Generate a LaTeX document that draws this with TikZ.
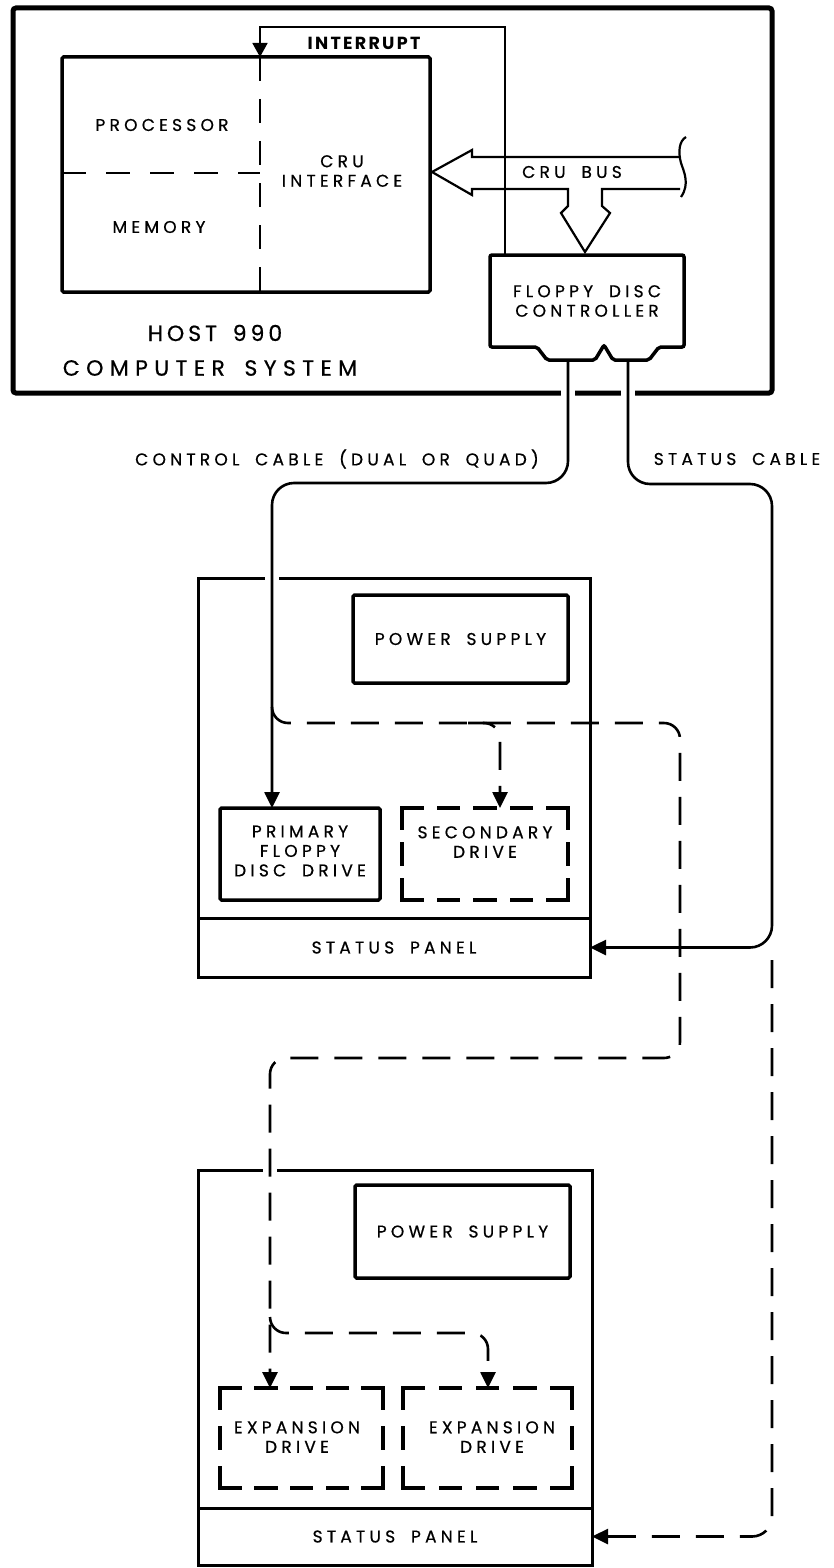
\documentclass[tikz,border=0pt]{standalone}
\usepackage{fontspec}
\newfontfamily\lbl[LetterSpace=25,WordSpace=1.8,FakeBold=0.6]{Poppins}
\newfontfamily\lblh[LetterSpace=18,WordSpace=1.6,FakeBold=0.6]{Poppins}
\newfontfamily\lblc[LetterSpace=29,WordSpace=1.6,FakeBold=0.6]{Poppins}
\newfontfamily\lblb[LetterSpace=13]{Poppins}
\usetikzlibrary{arrows.meta}
\newcommand{\dbx}[3]{%
  \draw[dside, dash pattern=on 20pt off #2pt] (#1.north west) -- (#1.north east);
  \draw[dside, dash pattern=on 20pt off #2pt] (#1.south west) -- (#1.south east);
  \draw[dside, dash pattern=on 20pt off #3pt] (#1.north west) -- (#1.south west);
  \draw[dside, dash pattern=on 20pt off #3pt] (#1.north east) -- (#1.south east);
}
\begin{document}
\begin{tikzpicture}[x=1pt,y=-1pt,
  lbl/.style={font=\lbl\fontsize{17}{19.5}\selectfont, align=center, inner sep=0pt},
  frame/.style={draw, line width=3pt, inner sep=0pt, outer sep=0pt},
  hbox/.style={draw, line width=3.5pt, inner sep=0pt, outer sep=0pt, rounded corners=1.5pt},
  dboxn/.style={inner sep=0pt, outer sep=0pt},
  dside/.style={line width=3.5pt, line cap=rect},
  cable/.style={line width=2.6pt, rounded corners=22pt},
  dcable/.style={cable, dash pattern=on 28pt off 16pt},
  tip/.style={-{Triangle[length=16pt,width=15pt]}},
]
\useasboundingbox (0,0) rectangle (834,1568);
\fill[white] (0,0) rectangle (834,1568);

% ---------- host computer ----------
\node[draw, line width=5pt, rounded corners=3pt, minimum width=759pt, minimum height=385pt, inner sep=0pt, outer sep=0pt] (host) at (392.5,200.5) {};
\node[hbox, minimum width=368pt, minimum height=235pt] (cpu) at (246,174.5) {};
\draw[line width=2.6pt, dash pattern=on 24pt off 18pt] (260,57) -- (260,292);
\draw[line width=2.6pt, dash pattern=on 24pt off 20pt] (62,173) -- (260,173);
\node[lbl] (proc) at (162,125) {PROCESSOR};
\node[lbl] (mem) at (159,227) {MEMORY};
\node[lbl] (cruif) at (342,171) {CRU\\INTERFACE};
\node[lbl, font=\lblh\fontsize{22}{26}\selectfont] (hostA) at (215,333) {HOST 990};
\node[lbl, font=\lblc\fontsize{22}{26}\selectfont] (hostB) at (210,368) {COMPUTER SYSTEM};
\node[lbl, font=\lblb\bfseries\fontsize{17.5}{20}\selectfont] (irqT) at (364,43) {INTERRUPT};

% CRU bus
\draw[line width=2.2pt, line join=miter] (680,157) -- (472,157) -- (472,150) -- (432,172) -- (472,195) -- (472,189) -- (568,189) -- (568,206) -- (561,213) -- (585,252) -- (610,213) -- (602,206) -- (602,189) -- (680,189);
\draw[line width=2.2pt] (686,137) .. controls (679,141) and (678,152) .. (681,163) .. controls (684,172) and (690,184) .. (681,197);
\node[lbl] (crubus) at (572,172) {CRU BUS};

% controller
\node[lbl, minimum width=194pt, minimum height=92pt] (fdc) at (587,301) {FLOPPY DISC\\CONTROLLER};
\draw[line width=3.5pt, rounded corners=2pt] (490,255) -- (684,255) -- (684,347) -- (659,347) -- (649,360) -- (613,360) -- (604,345) -- (595,360) -- (547,360) -- (537,347) -- (490,347) -- cycle;
\coordinate (fdcL) at (568,360);
\coordinate (fdcR) at (628,360);
\coordinate (irqA) at (505,255);
\coordinate (divx) at (260,0);
\draw[line width=1.8pt, -{Triangle[length=14pt,width=15pt]}] (irqA) |- (260,27) -- (cpu.north -| divx);

% gaps in host border
\fill[white] (561,387) rectangle (575,399);
\fill[white] (621,387) rectangle (635,399);

% ---------- unit 1 ----------
\node[frame, minimum width=392pt, minimum height=399pt] (u1) at (394,777.5) {};
\node[frame, lbl, minimum width=392pt, minimum height=59pt] (sp1) at (394,947.5) {STATUS PANEL};
\node[hbox, lbl, minimum width=215pt, minimum height=88pt] (ps1) at (460.5,639) {POWER SUPPLY};
\node[hbox, minimum width=160pt, minimum height=92pt] (prim) at (300,854) {};
\node[lbl] (primT) at (300,851) {PRIMARY\\FLOPPY\\DISC DRIVE};
\node[dboxn, minimum width=166pt, minimum height=92pt] (sec) at (485,854) {};
\dbx{sec}{16.5}{16}
\node[lbl] (secT) at (485,842) {SECONDARY\\DRIVE};

% ---------- unit 2 ----------
\node[frame, minimum width=394pt, minimum height=395pt] (u2) at (395,1367.5) {};
\node[frame, lbl, minimum width=394pt, minimum height=57pt] (sp2) at (395,1536.5) {STATUS PANEL};
\node[hbox, lbl, minimum width=215pt, minimum height=93pt] (ps2) at (462.5,1231.5) {POWER SUPPLY};
\node[dboxn, minimum width=163pt, minimum height=100pt] (ex1) at (301.5,1438) {};
\dbx{ex1}{15.75}{20}
\node[lbl] (ex1T) at (297,1437) {EXPANSION\\DRIVE};
\node[dboxn, minimum width=169pt, minimum height=100pt] (ex2) at (487.5,1438) {};
\dbx{ex2}{17.25}{20}
\node[lbl] (ex2T) at (492,1437) {EXPANSION\\DRIVE};

% gaps in unit tops
\fill[white] (265,573) rectangle (279,583);
\fill[white] (263,1165) rectangle (277,1175);

% ---------- cables ----------
\node[lbl] (ctlT) at (337,459) {CONTROL CABLE (DUAL OR QUAD)};
\node[lbl] (statT) at (737,459) {STATUS CABLE};
\coordinate (ctlx) at (272,0);
\coordinate (secx) at (500,0);
\coordinate (ex1x) at (270,0);
\coordinate (ex2x) at (488,0);
\draw[cable, tip] (fdcL) |- (272,483) -- (prim.north -| ctlx);
\draw[cable, tip] (fdcR) |- (772,484) |- (sp1.east);
\draw[dcable, rounded corners=20pt, tip] (772,960) |- (sp2.east);
\draw[dcable, rounded corners=16pt, tip] (272,707) |- (680,723) |- (270,1058) -- (ex1.north -| ex1x);
\draw[dcable, rounded corners=16pt, tip] (468,723) -| (sec.north -| secx);
\draw[dcable, rounded corners=16pt, tip] (270,1317) |- (488,1333) -- (ex2.north -| ex2x);
\end{tikzpicture}
\end{document}
